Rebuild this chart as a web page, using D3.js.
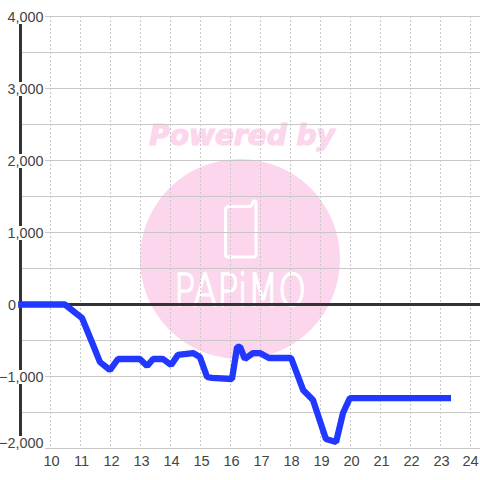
<!DOCTYPE html>
<html><head><meta charset="utf-8">
<script src="https://cdnjs.cloudflare.com/ajax/libs/d3/7.8.5/d3.min.js"></script>
<style>html,body{margin:0;padding:0;background:#fff}svg{display:block}text{font-family:"Liberation Sans",Arial,sans-serif}</style>
</head><body><svg id="c" width="480" height="480"></svg>
<script>
const hours =[8.92,10.48,11.05,11.42,11.65,11.98,12.25,12.98,13.22,13.42,13.75,14.02,14.25,14.75,14.98,15.22,15.38,16.05,16.22,16.32,16.48,16.75,16.98,17.28,18.02,18.42,18.75,19.18,19.52,19.75,19.98,23.35];
const values=[0,0,-187,-562,-800,-910,-757,-757,-855,-757,-757,-840,-700,-674,-730,-1007,-1020,-1035,-590,-590,-757,-674,-674,-743,-743,-1187,-1326,-1868,-1910,-1507,-1299,-1299];
const xTicks=d3.range(10,25);
const yGrid=d3.range(-2000,4001,500);
const yLabels=[4000,3000,2000,1000,0,-1000,-2000];
const svg=d3.select("#c");
const x=d3.scaleLinear().domain([10,24]).range([50.5,470.5]);
const y=d3.scaleLinear().domain([-2000,4000]).range([448.5,16.5]);
// logo
svg.append("circle").attr("cx",240).attr("cy",259).attr("r",100).attr("fill","#fbd6ec");
svg.append("text").attr("x",242).attr("y",144.5).attr("text-anchor","middle").attr("font-size",28).attr("font-weight","bold").attr("font-style","italic").attr("fill","#fbd6ec").attr("stroke","#fbd6ec").attr("stroke-width",1.2).style("font-family","'DejaVu Sans'").text("Powered by");
svg.append("path").attr("d","M229 206.5 H250 Q252 206 252.5 203 Q253.5 200.5 255 201 Q256 201 256 203 V254 Q256 257 253 257 H228 Q225.5 257 225.5 254 V210 Q225.5 206.5 229 206.5 Z").attr("fill","none").attr("stroke","#fff").attr("stroke-width",3);
svg.append("text").attr("x",240).attr("y",306).attr("text-anchor","middle").attr("font-size",44).attr("textLength",132).attr("lengthAdjust","spacingAndGlyphs").attr("fill","#fff").attr("stroke","#fff").attr("stroke-width",1.5).style("font-family","'DejaVu Sans'").attr("font-weight",200).text("PAPiMO");
// grid
svg.append("g").selectAll("line").data(yGrid).join("line").attr("x1",20).attr("x2",480).attr("y1",d=>y(d)).attr("y2",d=>y(d)).attr("stroke","#c8c8c8");
svg.append("g").selectAll("line").data(xTicks).join("line").attr("x1",d=>x(d)).attr("x2",d=>x(d)).attr("y1",16).attr("y2",448).attr("stroke","#c8c8c8").attr("stroke-dasharray","2,2");
// axes
svg.append("line").attr("x1",20.5).attr("x2",20.5).attr("y1",16).attr("y2",448).attr("stroke","#333").attr("stroke-width",3);
svg.append("line").attr("x1",20).attr("x2",480).attr("y1",y(0)).attr("y2",y(0)).attr("stroke","#333").attr("stroke-width",3);
// y labels with a white plate behind each
const baseline=d=>d===4000?22:d===-2000?448:y(d)+5.5;
const lab=svg.append("g").selectAll("g").data(yLabels).join("g");
const plates=lab.append("rect").attr("fill","#fff");
const texts=lab.append("text").attr("x",d=>d===0?8:43.5).attr("y",baseline).attr("text-anchor",d=>d===0?"start":"end").attr("font-size",14.4).attr("fill","#444").text(d3.format(","));
texts.each(function(d,i){
  const b=this.getBBox();
  d3.select(plates.nodes()[i]).attr("x",b.x-1).attr("y",baseline(d)-12).attr("width",b.width+2.5).attr("height",14);
});
// x labels
svg.append("g").selectAll("text").data(xTicks).join("text").attr("x",d=>d===24?x(d):x(d)+1).attr("y",466).attr("text-anchor","middle").attr("font-size",14.6).attr("fill","#444").text(d=>d);
// series
const pts=hours.map((h,i)=>[h,values[i]]);
svg.append("path").attr("d",d3.line().x(d=>x(d[0])).y(d=>y(d[1]))(pts)).attr("fill","none").attr("stroke","#2038ff").attr("stroke-width",6.3).attr("stroke-linejoin","bevel");
</script></body></html>
